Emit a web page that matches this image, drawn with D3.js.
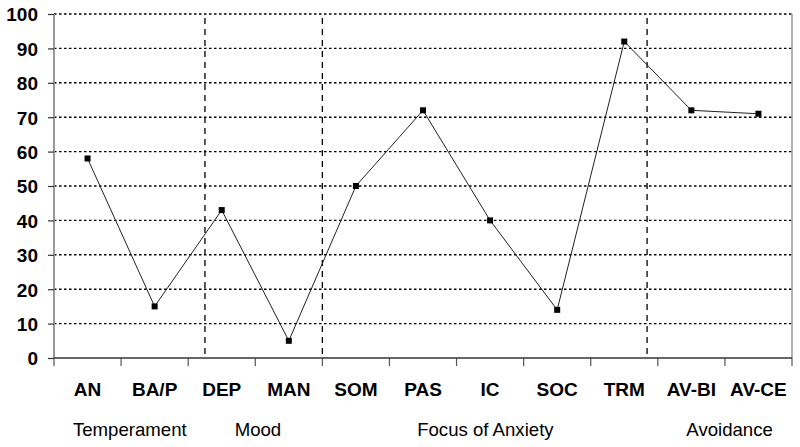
<!DOCTYPE html>
<html>
<head>
<meta charset="utf-8">
<script src="https://cdn.jsdelivr.net/npm/d3@7"></script>
<style>
body { margin: 0; background: #fff; }
svg { display: block; }
</style>
</head>
<body>
<svg id="chart" width="800" height="447"></svg>
<script>
const categories = ["AN", "BA/P", "DEP", "MAN", "SOM", "PAS", "IC", "SOC", "TRM", "AV-BI", "AV-CE"];
const values = [58, 15, 43, 5, 50, 72, 40, 14, 92, 72, 71];
const yTicks = [0, 10, 20, 30, 40, 50, 60, 70, 80, 90, 100];
// separator positions, in category units from the left edge
const separators = [2.25, 4.0, 8.84];
// group labels with their centre, in category units
const groups = ["Temperament", "Mood", "Focus of Anxiety", "Avoidance"];
const groupCenters = [1.13, 3.04, 6.43, 10.07];

const svg = d3.select("#chart");
const pLeft = 54, pRight = 792, pTop = 14, pBottom = 358;
const FONT = "'Liberation Sans', Arial, sans-serif";

const xu = d3.scaleLinear().domain([0, categories.length]).range([pLeft, pRight]);
const x = d3.scaleBand().domain(categories).range([pLeft, pRight]).padding(0);
const y = d3.scaleLinear().domain([0, 100]).range([pBottom, pTop]);

// dotted gridlines
svg.append("g").selectAll("line").data(yTicks.filter(d => d > 0)).join("line")
  .attr("x1", pLeft).attr("x2", pRight)
  .attr("y1", d => y(d)).attr("y2", d => y(d))
  .attr("stroke", "#000").attr("stroke-width", 1.4)
  .attr("stroke-dasharray", "2.5,2.5");

// left axis line (gray) and right border
svg.append("line").attr("x1", pLeft).attr("x2", pLeft).attr("y1", pTop).attr("y2", pBottom)
  .attr("stroke", "#999").attr("stroke-width", 2);
svg.append("line").attr("x1", pRight).attr("x2", pRight).attr("y1", pTop).attr("y2", pBottom)
  .attr("stroke", "#999").attr("stroke-width", 1.5);

// y axis ticks + labels
const yAxis = svg.append("g").attr("transform", `translate(${pLeft},0)`)
  .call(d3.axisLeft(y).tickValues(yTicks).tickSize(6).tickPadding(10));
yAxis.select(".domain").remove();
yAxis.selectAll(".tick line").attr("stroke", "#333").attr("stroke-width", 1.2);
yAxis.selectAll(".tick text")
  .attr("font-family", FONT)
  .attr("font-weight", "bold").attr("font-size", 19).attr("fill", "#000")
  .attr("dy", "0.36em");

// vertical dashed separators
svg.append("g").selectAll("line").data(separators).join("line")
  .attr("x1", d => xu(d)).attr("x2", d => xu(d))
  .attr("y1", 18).attr("y2", pBottom)
  .attr("stroke", "#000").attr("stroke-width", 1.3)
  .attr("stroke-dasharray", "6,5");

// x axis ticks at category boundaries
svg.append("g").selectAll("line").data(d3.range(categories.length + 1)).join("line")
  .attr("x1", d => xu(d)).attr("x2", d => xu(d))
  .attr("y1", pBottom).attr("y2", pBottom + 8)
  .attr("stroke", "#555").attr("stroke-width", 1.2);

// bottom axis line
svg.append("line").attr("x1", pLeft).attr("x2", pRight).attr("y1", pBottom).attr("y2", pBottom)
  .attr("stroke", "#333").attr("stroke-width", 1.5);

// category labels
svg.append("g").selectAll("text").data(categories).join("text")
  .attr("x", d => x(d) + x.bandwidth() / 2).attr("y", 395.5)
  .attr("text-anchor", "middle")
  .attr("font-family", FONT)
  .attr("font-weight", "bold").attr("font-size", 19).attr("fill", "#000")
  .text(d => d);

// group labels
svg.append("g").selectAll("text").data(groups).join("text")
  .attr("x", (d, i) => xu(groupCenters[i])).attr("y", 435.5)
  .attr("text-anchor", "middle")
  .attr("font-family", FONT)
  .attr("font-size", 18.6).attr("fill", "#000")
  .text(d => d);

// data line
const pts = categories.map((c, i) => [x(c) + x.bandwidth() / 2, y(values[i])]);
svg.append("path").attr("d", d3.line()(pts))
  .attr("fill", "none").attr("stroke", "#222").attr("stroke-width", 1);

// markers
svg.append("g").selectAll("rect").data(pts).join("rect")
  .attr("x", d => d[0] - 3).attr("y", d => d[1] - 3)
  .attr("width", 6).attr("height", 6).attr("fill", "#000");
</script>
</body>
</html>
